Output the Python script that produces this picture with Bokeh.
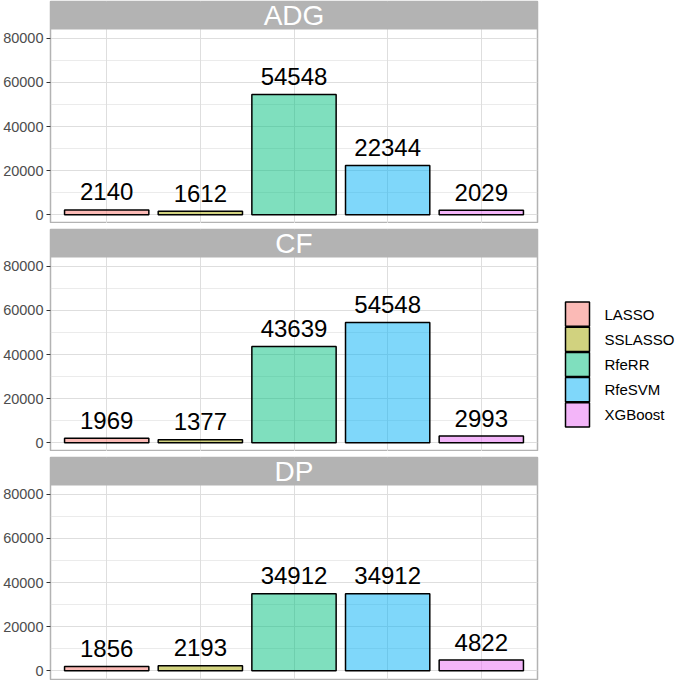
from bokeh.plotting import figure
from bokeh.models import Range1d, FixedTicker, ColumnDataSource, Label
from bokeh.layouts import column, row
from bokeh.core.properties import value
from bokeh.embed import file_html
from bokeh.resources import INLINE

# ---- data ----
methods = ["LASSO", "SSLASSO", "RfeRR", "RfeSVM", "XGBoost"]
facets = ["ADG", "CF", "DP"]
adg_counts = [2140, 1612, 54548, 22344, 2029]
cf_counts = [1969, 1377, 43639, 54548, 2993]
dp_counts = [1856, 2193, 34912, 34912, 4822]
colors = ["#F8766D", "#A3A500", "#00BF7D", "#00B0F6", "#E76BF3"]
y_ticks = [0, 20000, 40000, 60000, 80000]
y_minor = [10000, 30000, 50000, 70000]

counts_by_facet = [adg_counts, cf_counts, dp_counts]

FONT = value("Liberation Sans")
LEFT = 48
RIGHT = 2
FRAME_W = 489
STRIP_H = 28
DATA_H = 194
GAP = 6
GRID = "#DEDEDE"
BORDER = "#B3B3B3"
Y_LO, Y_HI = -4000, 84000

xs = list(range(1, len(methods) + 1))
per_px = (Y_HI - Y_LO) / DATA_H
strip_top = Y_HI + STRIP_H * per_px


def panel_fig(name, counts, top, bottom):
    p = figure(width=LEFT + FRAME_W + RIGHT,
               height=top + STRIP_H + DATA_H + bottom,
               x_range=Range1d(0.4, len(methods) + 0.6),
               y_range=Range1d(Y_LO, strip_top),
               output_backend="svg", toolbar_location=None,
               min_border_left=LEFT, min_border_right=RIGHT,
               min_border_top=top, min_border_bottom=bottom)
    p.xaxis.visible = False
    p.outline_line_color = BORDER
    p.outline_line_width = 1.5
    p.background_fill_color = "white"
    p.border_fill_color = "white"

    p.yaxis.ticker = FixedTicker(ticks=y_ticks, minor_ticks=y_minor)
    p.yaxis.axis_line_color = None
    p.yaxis.major_tick_line_color = "#333333"
    p.yaxis.major_tick_out = 4
    p.yaxis.major_tick_in = 0
    p.yaxis.minor_tick_line_color = None
    p.yaxis.major_label_text_font = "Liberation Sans"
    p.yaxis.major_label_text_font_size = "14.5px"
    p.yaxis.major_label_text_color = "#4D4D4D"
    p.yaxis.major_label_standoff = 3

    p.ygrid.grid_line_color = GRID
    p.ygrid.grid_line_width = 1
    p.ygrid.minor_grid_line_color = GRID
    p.ygrid.minor_grid_line_width = 0.6
    p.xgrid.ticker = FixedTicker(ticks=xs)
    p.xgrid.grid_line_color = GRID
    p.xgrid.grid_line_width = 1

    # facet strip
    p.quad(left=0.4, right=len(methods) + 0.6, bottom=Y_HI, top=strip_top,
           fill_color=BORDER, line_color=None)
    p.add_layout(Label(x=(len(methods) + 1) / 2, y=(Y_HI + strip_top) / 2,
                       text=name, text_font="Liberation Sans",
                       text_font_size="28px", text_color="white",
                       text_align="center", text_baseline="middle"))

    src = ColumnDataSource(dict(x=xs, top=counts, color=colors,
                                label=[str(v) for v in counts]))
    p.vbar(x="x", top="top", bottom=0, width=0.9, fill_color="color",
           fill_alpha=0.5, line_color="black", line_width=1.5, source=src)
    p.text(x="x", y="top", text="label", source=src, text_font=FONT,
           text_font_size="24px", text_color="black", text_align="center",
           text_baseline="middle", y_offset=-18)
    return p


items = []
n = len(facets)
for i, (name, counts) in enumerate(zip(facets, counts_by_facet)):
    top = 1 if i == 0 else GAP
    bottom = 1 if i == n - 1 else 0
    items.append(panel_fig(name, counts, top, bottom))

left_col = column(*items, spacing=0)
total_h = 1 + n * (STRIP_H + DATA_H) + (n - 1) * GAP + 1

# ---- legend ----
LEG_W = 676 - (LEFT + FRAME_W + RIGHT)
leg = figure(width=LEG_W, height=total_h,
             x_range=Range1d(0, LEG_W), y_range=Range1d(total_h, 0),
             output_backend="svg", toolbar_location=None,
             min_border=0, min_border_left=0, min_border_right=0,
             min_border_top=0, min_border_bottom=0)
leg.axis.visible = False
leg.grid.visible = False
leg.outline_line_color = None
key_h = 25.2
key_top = 301
ky = [key_top + key_h / 2 + i * key_h for i in range(len(methods))]
lsrc = ColumnDataSource(dict(y=ky, color=colors, label=methods))
leg.rect(x=38, y="y", width=24, height=key_h - 1, fill_color="color",
         fill_alpha=0.5, line_color="black", line_width=1.5, source=lsrc)
leg.text(x=65, y="y", text="label", source=lsrc, text_font=FONT,
         text_font_size="15px", text_color="black", text_align="left",
         text_baseline="middle")

root = row(left_col, leg, spacing=0)
open("out.html", "w").write(file_html(root, INLINE))
